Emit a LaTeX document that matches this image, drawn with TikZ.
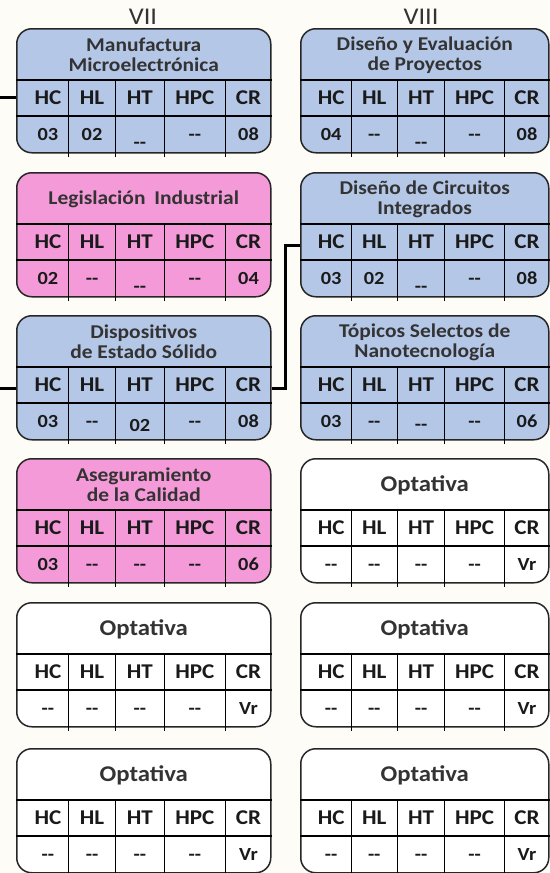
\documentclass[tikz,border=0pt]{standalone}
\usepackage{fontspec}
\setmainfont{Carlito}[FakeStretch=1.1]
\usetikzlibrary{calc}
\definecolor{bgc}{HTML}{FDFCF7}
\definecolor{bluef}{HTML}{B4C7E7}
\definecolor{pinkf}{HTML}{F59AD8}
\definecolor{edgec}{HTML}{262626}
\definecolor{txtc}{HTML}{1A1A1A}
\definecolor{semc}{HTML}{333333}
\newcommand\lowd{\raisebox{-8pt}{-{}-}}
\newcommand\dd{-{}-}
\newcommand\opt{\fontsize{22.5}{24}\selectfont Optativa}
\newcommand\course[6]{%
  \node[cbox, fill=#5, minimum width=#4, anchor=north west] (#1) at (#2,#3) {};
  \node[titletext] (#1-t) at ($(#1.north)+(0,27)$) {#6};
  \draw[tbl] ($(#1.north west)+(0,52)$) -- ($(#1.north east)+(0,52)$);
  \draw[tbl] ($(#1.north west)+(0,88)$) -- ($(#1.north east)+(0,88)$);
  \foreach \f in {0.205,0.39,0.58,0.82}
    \draw[tbl] ($(#1.north west)!\f!(#1.north east)+(0,52)$) -- ($(#1.south west)!\f!(#1.south east)+(0,3)$);
  \node[hdr] (#1-h1) at ($(#1.north west)!0.125!(#1.north east)+(0,70)$) {HC};
  \node[hdr] (#1-h2) at ($(#1.north west)!0.2975!(#1.north east)+(0,70)$) {HL};
  \node[hdr] (#1-h3) at ($(#1.north west)!0.485!(#1.north east)+(0,70)$) {HT};
  \node[hdr] (#1-h4) at ($(#1.north west)!0.70!(#1.north east)+(0,70)$) {HPC};
  \node[hdr] (#1-h5) at ($(#1.north west)!0.91!(#1.north east)+(0,70)$) {CR};
}
\newcommand\vals[6]{%
  \node[val] (#1-v1) at ($(#1.north west)!0.125!(#1.north east)+(0,106)$) {#2};
  \node[val] (#1-v2) at ($(#1.north west)!0.2975!(#1.north east)+(0,106)$) {#3};
  \node[val] (#1-v3) at ($(#1.north west)!0.485!(#1.north east)+(0,106)$) {#4};
  \node[val] (#1-v4) at ($(#1.north west)!0.70!(#1.north east)+(0,106)$) {#5};
  \node[val] (#1-v5) at ($(#1.north west)!0.91!(#1.north east)+(0,106)$) {#6};
}
\begin{document}
\begin{tikzpicture}[x=1pt,y=-1pt,
  cbox/.style={draw=edgec, line width=1.5pt, rounded corners=15pt, minimum height=124pt, inner sep=0pt},
  tbl/.style={draw=black, line width=1.3pt},
  titletext/.style={align=center, text=semc, font=\fontsize{19.5}{20}\selectfont\bfseries, inner sep=0pt},
  hdr/.style={text=txtc, font=\fontsize{21}{22}\selectfont\bfseries, inner sep=0pt, text height=13.5pt, text depth=0pt},
  val/.style={text=txtc, font=\fontsize{18.5}{20}\selectfont\bfseries, inner sep=0pt, text height=12pt, text depth=0pt},
  sem/.style={text=semc, font=\fontsize{24}{24}\selectfont, inner sep=0pt},
  conn/.style={draw=black, line width=3pt}]
\fill[bgc] (0,0) rectangle (549,873);
\useasboundingbox (0,0) rectangle (549,873);
% semesters
\node[sem] (s7) at (143,17) {VII};
\node[sem] (s8) at (421,17) {VIII};
% left column
\course{man}{16}{28}{254pt}{bluef}{Manufactura\\Microelectrónica}
\vals{man}{03}{02}{\lowd}{\dd}{08}
\course{leg}{16}{172}{254pt}{pinkf}{Legislación\hspace{0.45em}Industrial}
\vals{leg}{02}{\dd}{\lowd}{\dd}{04}
\course{dis}{16}{315}{254pt}{bluef}{Dispositivos\\de Estado Sólido}
\vals{dis}{03}{\dd}{\raisebox{-4pt}{02}}{\dd}{08}
\course{ase}{16}{458}{254pt}{pinkf}{Aseguramiento\\de la Calidad}
\vals{ase}{03}{\dd}{\dd}{\dd}{06}
\course{opl1}{16}{602}{254pt}{white}{\opt}
\vals{opl1}{\dd}{\dd}{\dd}{\dd}{Vr}
\course{opl2}{16}{748}{254pt}{white}{\opt}
\vals{opl2}{\dd}{\dd}{\dd}{\dd}{Vr}
% right column
\course{dev}{300}{28}{248pt}{bluef}{Diseño y Evaluación\\de Proyectos}
\vals{dev}{04}{\dd}{\lowd}{\dd}{08}
\course{dci}{300}{172}{248pt}{bluef}{Diseño de Circuitos\\Integrados}
\vals{dci}{03}{02}{\lowd}{\dd}{08}
\course{top}{300}{315}{248pt}{bluef}{Tópicos Selectos de\\Nanotecnología}
\vals{top}{03}{\dd}{\raisebox{-3pt}{\dd}}{\dd}{06}
\course{opr1}{300}{458}{248pt}{white}{\opt}
\vals{opr1}{\dd}{\dd}{\dd}{\dd}{Vr}
\course{opr2}{300}{602}{248pt}{white}{\opt}
\vals{opr2}{\dd}{\dd}{\dd}{\dd}{Vr}
\course{opr3}{300}{748}{248pt}{white}{\opt}
\vals{opr3}{\dd}{\dd}{\dd}{\dd}{Vr}
% connectors
\coordinate (in1) at (0,97);
\coordinate (in3) at (0,388);
\coordinate (bend) at (285,245);
\draw[conn] (in1) -- (in1 -| man.west);
\draw[conn] (in3) -- (in3 -| dis.west);
\draw[conn] (in3 -| dis.east) -| (bend) -- (bend -| dci.west);
\end{tikzpicture}
\end{document}
